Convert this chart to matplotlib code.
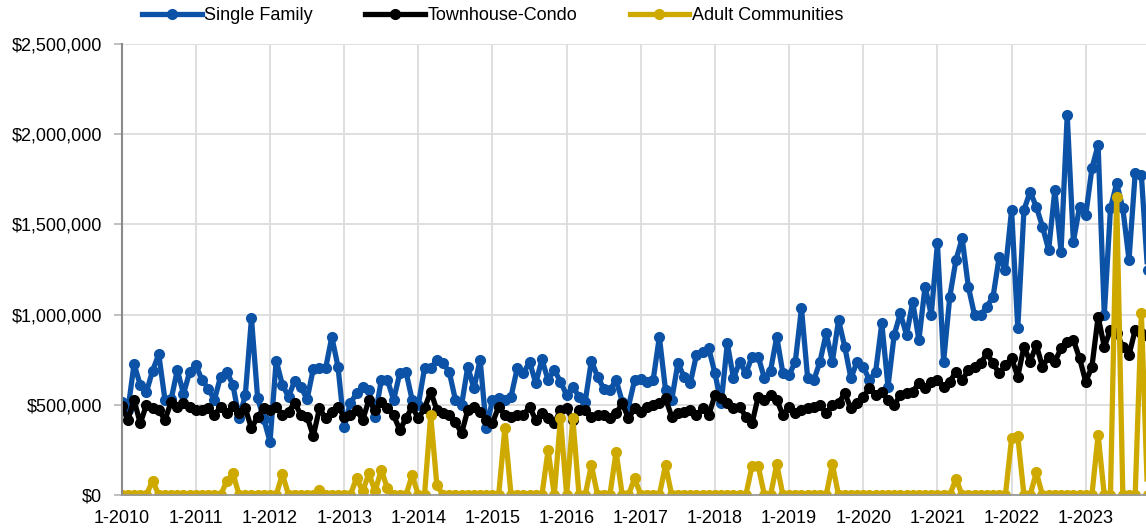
import matplotlib
matplotlib.use("Agg")
import matplotlib.pyplot as plt
from matplotlib.ticker import FuncFormatter, MultipleLocator

plt.rcParams["font.family"] = ["Liberation Sans", "DejaVu Sans"]

# monthly values in $1,000s, Jan 2010 .. Nov 2023
single_family = [
    517, 470, 726, 610, 570, 690, 780, 527, 530, 693, 560, 683,
    720, 637, 590, 527, 656, 683, 610, 425, 554, 979, 536, 420,
    295, 745, 610, 545, 634, 600, 530, 700, 705, 702, 877, 711,
    379, 508, 564, 597, 584, 434, 637, 637, 527, 675, 683, 527,
    500, 702, 702, 748, 730, 683, 527, 499, 711, 591, 750, 370,
    527, 536, 527, 545, 702, 674, 739, 619, 752, 637, 693, 628,
    554, 600, 545, 517, 745, 656, 590, 582, 637, 517, 490, 637,
    645, 628, 637, 877, 582, 527, 730, 656, 619, 776, 794, 813,
    674, 508, 841, 647, 739, 674, 767, 767, 647, 690, 877, 674,
    665, 739, 1035, 647, 637, 740, 896, 739, 970, 822, 647, 739,
    711, 637, 683, 952, 600, 887, 1007, 887, 1071, 859, 1155, 998,
    1395, 739, 1099, 1303, 1423, 1155, 998, 998, 1044, 1099, 1321, 1247,
    1580, 924, 1580, 1681, 1598, 1487, 1358, 1691, 1349, 2106, 1404, 1598,
    1552, 1811, 1940, 998, 1589, 1728, 1589, 1303, 1783, 1774, 1247,
]
townhouse_condo = [
    493, 416, 527, 397, 499, 480, 471, 416, 517, 489, 508, 489,
    471, 471, 480, 443, 489, 453, 493, 453, 480, 370, 434, 480,
    471, 489, 443, 462, 512, 443, 434, 327, 480, 425, 462, 489,
    434, 443, 471, 416, 527, 471, 517, 480, 443, 360, 425, 489,
    425, 480, 573, 471, 453, 443, 406, 342, 471, 489, 462, 416,
    400, 489, 443, 434, 443, 443, 489, 416, 453, 425, 397, 471,
    480, 416, 471, 471, 434, 443, 443, 425, 453, 508, 425, 480,
    462, 489, 499, 508, 536, 434, 453, 462, 471, 443, 480, 443,
    554, 536, 508, 480, 489, 434, 397, 545, 527, 554, 527, 443,
    489, 453, 471, 480, 489, 499, 453, 499, 508, 564, 480, 508,
    545, 591, 554, 573, 527, 499, 554, 564, 573, 619, 591, 628,
    637, 600, 628, 683, 637, 693, 711, 730, 785, 730, 674, 720,
    758, 656, 822, 739, 831, 711, 767, 739, 813, 850, 859, 758,
    628, 711, 988, 822, 915, 896, 822, 776, 915, 900, 880,
]
adult_communities = [
    0, 0, 0, 0, 0, 80, 0, 0, 0, 0, 0, 0,
    0, 0, 0, 0, 0, 75, 120, 0, 0, 0, 0, 0,
    0, 0, 116, 0, 0, 0, 0, 0, 28, 0, 0, 0,
    0, 0, 94, 20, 120, 20, 139, 37, 0, 0, 0, 110,
    0, 0, 443, 55, 0, 0, 0, 0, 0, 0, 0, 0,
    0, 0, 370, 0, 0, 0, 0, 0, 0, 249, 0, 425,
    0, 425, 0, 0, 166, 0, 0, 0, 240, 0, 0, 92,
    0, 0, 0, 0, 166, 0, 0, 0, 0, 0, 0, 0,
    0, 0, 0, 0, 0, 0, 160, 160, 0, 0, 170, 0,
    0, 0, 0, 0, 0, 0, 0, 170, 0, 0, 0, 0,
    0, 0, 0, 0, 0, 0, 0, 0, 0, 0, 0, 0,
    0, 0, 0, 90, 0, 0, 0, 0, 0, 0, 0, 0,
    314, 325, 0, 0, 125, 0, 0, 0, 0, 0, 0, 0,
    0, 0, 333, 0, 0, 1654, 0, 0, 0, 1007, 0,
]
years = list(range(2010, 2024))
year_labels = [f"1-{y}" for y in years]

series = [
    ("Single Family", single_family, "#0c52a6"),
    ("Townhouse-Condo", townhouse_condo, "#000000"),
    ("Adult Communities", adult_communities, "#ceaa00"),
]

fig = plt.figure(figsize=(11.46, 5.28), dpi=100)
ax = fig.add_axes([121.7 / 1146, 33 / 528, 1 - 121.7 / 1146, 451 / 528])

for name, vals, col in series:
    months = range(len(vals))
    ax.plot(months, [v * 1000 for v in vals], "-o", color=col, lw=3.8, ms=7,
            label=name, solid_joinstyle="round")

ax.set_xlim(0, 165.75)
ax.set_ylim(0, 2500000)
ax.set_xticks([12 * i for i in range(len(years))])
ax.set_xticklabels(year_labels)
ax.yaxis.set_major_locator(MultipleLocator(500000))
ax.yaxis.set_major_formatter(FuncFormatter(lambda v, p: f"${v:,.0f}"))
ax.grid(True, color="#dcdcdc", lw=1.3)
ax.set_axisbelow(True)
ax.tick_params(axis="y", length=6, width=1.3, color="#bbbbbb", pad=8, labelsize=13)
ax.tick_params(axis="x", length=0, pad=11, labelsize=13)
for s in ("top", "right"):
    ax.spines[s].set_visible(False)
ax.spines["left"].set_color("#8a8a8a")
ax.spines["left"].set_linewidth(1.5)
ax.spines["bottom"].set_color("#9a9a9a")
ax.spines["bottom"].set_linewidth(1.3)

fig.legend(loc="center left", bbox_to_anchor=(142 / 1146, 1 - 16 / 528), ncol=3,
           frameon=False, fontsize=13, handlelength=3.3, handletextpad=0.15,
           columnspacing=2.9, borderpad=0, borderaxespad=0)

fig.savefig("out.png", dpi=100)
